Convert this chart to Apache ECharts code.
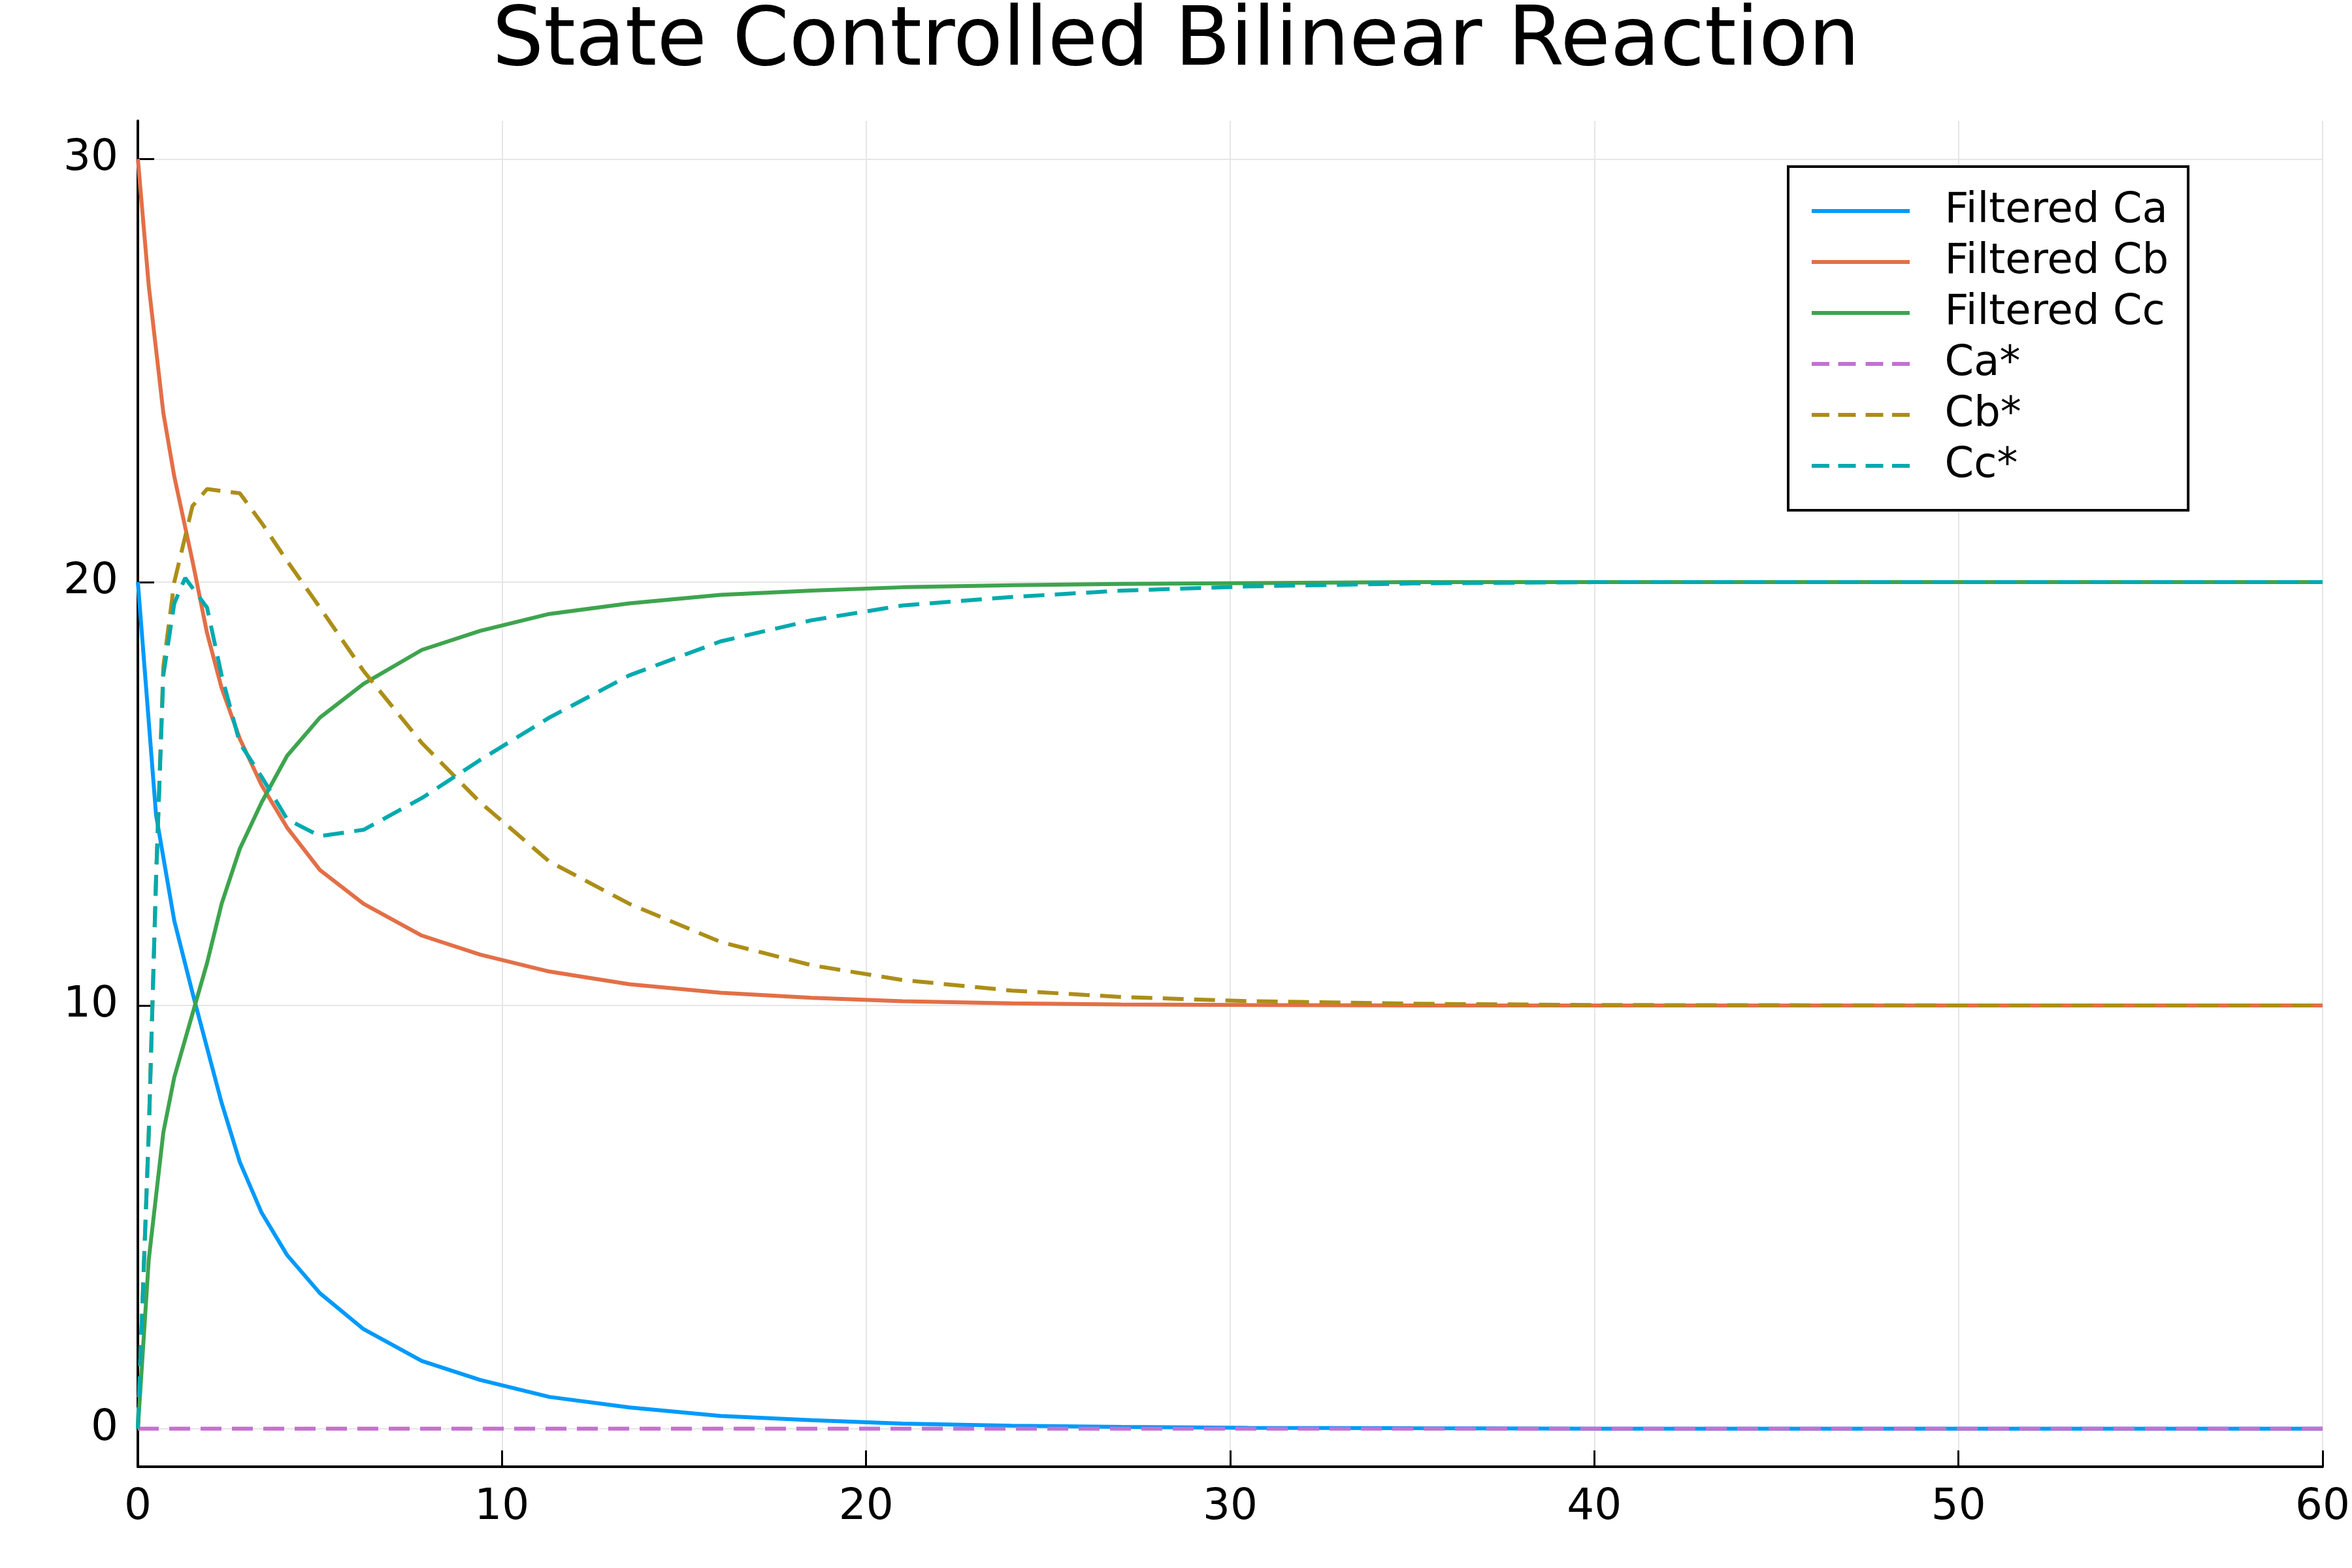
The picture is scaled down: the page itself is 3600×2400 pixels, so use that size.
<!DOCTYPE html>
<html>
<head>
<meta charset="utf-8">
<script src="https://cdn.jsdelivr.net/npm/echarts@6/dist/echarts.min.js"></script>
<style>body{margin:0;background:#fff}#c{width:3600px;height:2400px}</style>
</head>
<body>
<div id="c"></div>
<script>
var tA = [0, 0.5, 1, 1.5, 1.9, 2.3, 2.8, 3.4, 4.1, 5, 6.2, 7.8, 9.4, 11.3, 13.5, 16, 18.5, 21, 24, 27, 30.5, 35, 40, 50, 60];
var ca = [20, 14.5, 12, 10.3, 9, 7.7, 6.3, 5.1, 4.1, 3.2, 2.35, 1.6, 1.15, 0.75, 0.5, 0.3, 0.2, 0.12, 0.07, 0.04, 0.02, 0.01, 0, 0, 0];
var tB = [0, 0.3, 0.5, 0.7, 1, 1.5, 1.9, 2.3, 2.8, 3.4, 4.1, 5, 6.2, 7.8, 9.4, 11.3, 13.5, 16, 18.5, 21, 24, 27, 30.5, 35, 40, 50, 60];
var cb = [30, 27, 25.5, 24, 22.5, 20.5, 18.8, 17.5, 16.3, 15.2, 14.2, 13.2, 12.4, 11.65, 11.2, 10.8, 10.5, 10.3, 10.18, 10.1, 10.05, 10.02, 10.01, 10, 10, 10, 10];
var cc = [0, 4, 5.5, 7, 8.3, 9.8, 11, 12.4, 13.7, 14.8, 15.9, 16.8, 17.6, 18.4, 18.85, 19.25, 19.5, 19.7, 19.8, 19.88, 19.93, 19.96, 19.98, 20, 20, 20, 20];
var tS = [0, 60];
var caStar = [0, 0];
var tBs = [0, 0.3, 0.5, 0.7, 1, 1.5, 1.9, 2.8, 3.4, 4.1, 5, 6.2, 7.8, 9.4, 11.3, 13.5, 16, 18.5, 21, 24, 27, 30.5, 35, 40, 50, 60];
var cbStar = [0, 7, 13, 18, 20, 21.8, 22.2, 22.1, 21.4, 20.5, 19.4, 17.9, 16.2, 14.8, 13.4, 12.4, 11.5, 10.95, 10.6, 10.35, 10.2, 10.1, 10.04, 10.01, 10, 10];
var tCs = [0, 0.3, 0.5, 0.7, 1, 1.3, 1.9, 2.3, 2.8, 3.4, 4.1, 5, 6.2, 7.8, 9.4, 11.3, 13.5, 16, 18.5, 21, 24, 27, 30.5, 35, 40, 50, 60];
var ccStar = [0, 7, 13, 17.8, 19.5, 20.1, 19.4, 17.8, 16.2, 15.4, 14.4, 14.0, 14.15, 14.9, 15.8, 16.8, 17.8, 18.6, 19.1, 19.45, 19.65, 19.8, 19.9, 19.97, 20, 20, 20];
var xTicks = [0, 10, 20, 30, 40, 50, 60];
var yTicks = [0, 10, 20, 30];

function pairs(t, v) { return t.map(function (x, i) { return [x, v[i]]; }); }
var solidIcon = 'path://M0,0H100V4H0z';
var dashIcon = 'path://M0,0H18V4H0zM27,0H45V4H27zM55,0H73V4H55zM82,0H100V4H82z';

function line(name, t, v, color, dashed) {
  return {
    name: name, type: 'line', data: pairs(t, v), showSymbol: false, symbol: 'none',
    lineStyle: { color: color, width: 6, type: dashed ? [32, 16] : 'solid' },
    itemStyle: { color: color }, animation: false
  };
}

var chart = echarts.init(document.getElementById('c'));
chart.setOption({
  backgroundColor: '#fff',
  textStyle: { fontFamily: 'DejaVu Sans' },
  title: { text: 'State Controlled Bilinear Reaction', left: 'center', top: 0,
    textStyle: { fontSize: 124, fontWeight: 'normal', color: '#000', fontFamily: 'DejaVu Sans' } },
  grid: { left: 211, right: 43, top: 185, bottom: 155 },
  legend: {
    orient: 'vertical', left: 2737, top: 255, width: 706, padding: [36, 30, 36, 36],
    borderColor: '#000', borderWidth: 4, backgroundColor: '#fff',
    itemWidth: 227, itemHeight: 6, itemGap: 14,
    textStyle: { fontSize: 64, color: '#000', padding: [0, 0, 0, 10] },
    data: [
      { name: 'Filtered Ca', icon: solidIcon },
      { name: 'Filtered Cb', icon: solidIcon },
      { name: 'Filtered Cc', icon: solidIcon },
      { name: 'Ca*', icon: dashIcon },
      { name: 'Cb*', icon: dashIcon },
      { name: 'Cc*', icon: dashIcon }
    ]
  },
  xAxis: {
    type: 'value', min: 0, max: 60, interval: 10,
    axisLine: { onZero: false, lineStyle: { color: '#000', width: 4 } },
    axisTick: { inside: true, length: 25, lineStyle: { color: '#000', width: 3 } },
    axisLabel: { fontSize: 66, color: '#000', margin: 30 },
    splitLine: { lineStyle: { color: '#e6e6e6', width: 2 } }
  },
  yAxis: {
    type: 'value', min: -0.9, max: 30.9,
    axisLine: { show: true, onZero: false, lineStyle: { color: '#000', width: 4 } },
    axisTick: { show: true, inside: true, length: 25, customValues: yTicks, lineStyle: { color: '#000', width: 3 } },
    axisLabel: { fontSize: 66, color: '#000', margin: 30, customValues: yTicks },
    splitLine: { show: true, lineStyle: { color: '#e6e6e6', width: 2 } }
  },
  series: [
    line('Filtered Ca', tA, ca, '#009AFA', false),
    line('Filtered Cb', tB, cb, '#E36F47', false),
    line('Filtered Cc', tB, cc, '#3EA44E', false),
    line('Ca*', tS, caStar, '#C371D2', true),
    line('Cb*', tBs, cbStar, '#AC8E18', true),
    line('Cc*', tCs, ccStar, '#00AAAE', true)
  ]
});
</script>
</body>
</html>
